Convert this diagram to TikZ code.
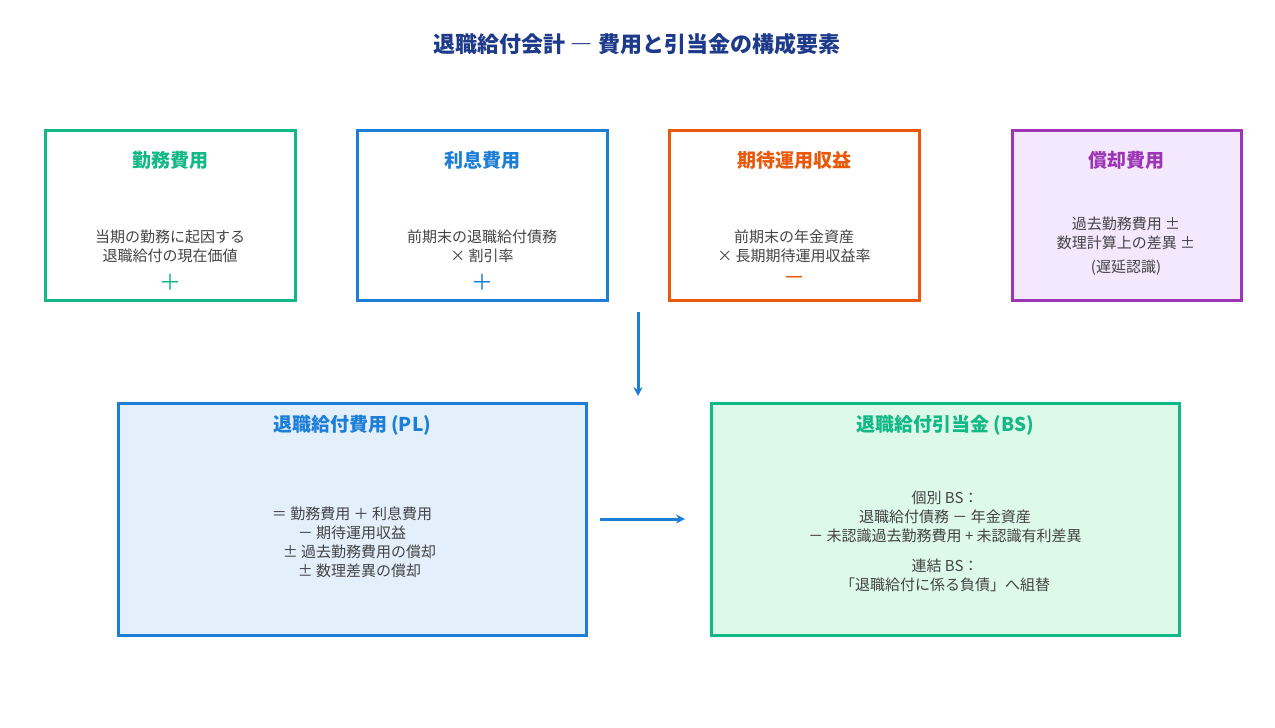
\documentclass[tikz,border=0pt]{standalone}
\usepackage{fontspec}
\setmainfont{Noto Sans CJK JP}
\usetikzlibrary{arrows.meta}
\definecolor{cGreen}{HTML}{12B886}
\definecolor{cBlue}{HTML}{1C7ED6}
\definecolor{cOrange}{HTML}{E8590C}
\definecolor{cPurple}{HTML}{9C36B5}
\definecolor{cNavy}{HTML}{1E3A8A}
\definecolor{cText}{HTML}{444444}
\definecolor{fPurple}{HTML}{F3E8FD}
\definecolor{fBlue}{HTML}{E3F0FC}
\definecolor{fGreen}{HTML}{DDF9EA}
\tikzset{
  box/.style={line width=3pt},
  head/.style={font=\fontsize{19}{22}\selectfont\bfseries},
  body/.style={font=\fontsize{15}{19}\selectfont, text=cText, align=center},
  sign/.style={font=\fontsize{22}{22}\selectfont},
  flow/.style={line width=3pt, cBlue, -{Stealth[length=9pt,width=9pt]}}
}
\begin{document}
\begin{tikzpicture}[x=1pt,y=-1pt]
  \useasboundingbox (0,0) rectangle (1275,728);
  \node[font=\fontsize{22}{26}\selectfont\bfseries, text=cNavy] (title) at (637,44) {退職給付会計 ― 費用と引当金の構成要素};

  % upper boxes
  \draw[box, cGreen] (45,130) rectangle (295,300);
  \node[head, text=cGreen] (kinmu) at (170,160) {勤務費用};
  \node[body] (kinmuT) at (170,246) {当期の勤務に起因する\\退職給付の現在価値};
  \node[sign, text=cGreen] (kinmuS) at (170,282) {＋};

  \draw[box, cBlue] (357,130) rectangle (607,300);
  \node[head, text=cBlue] (risoku) at (482,160) {利息費用};
  \node[body] (risokuT) at (482,246) {前期末の退職給付債務\\× 割引率};
  \node[sign, text=cBlue] (risokuS) at (482,282) {＋};

  \draw[box, cOrange] (669,130) rectangle (919,300);
  \node[head, text=cOrange] (kitai) at (794,160) {期待運用収益};
  \node[body] (kitaiT) at (794,246) {前期末の年金資産\\× 長期期待運用収益率};
  \node[sign, text=cOrange] (kitaiS) at (794,281) {－};

  \draw[box, cPurple, fill=fPurple] (1012,130) rectangle (1241,300);
  \node[head, text=cPurple] (shokyaku) at (1126,160) {償却費用};
  \node[body] (shokyakuT) at (1126,246) {過去勤務費用 ±\\数理計算上の差異 ±\\[5pt](遅延認識)};

  % lower boxes
  \draw[box, cBlue, fill=fBlue] (118,403) rectangle (586,635);
  \node[head, text=cBlue] (pl) at (352,425) {退職給付費用 (PL)};
  \node[body] (plT) at (352,542) {＝ 勤務費用 ＋ 利息費用\\－ 期待運用収益\\　± 過去勤務費用の償却\\　± 数理差異の償却};

  \draw[box, cGreen, fill=fGreen] (711,403) rectangle (1179,635);
  \node[head, text=cGreen] (bs) at (945,425) {退職給付引当金 (BS)};
  \node[body] (bsT) at (945,541) {個別 BS：\\退職給付債務 － 年金資産\\－ 未認識過去勤務費用 + 未認識有利差異\\[11pt]連結 BS：\\「退職給付に係る負債」へ組替};

  \coordinate (vTop) at (638,312);
  \coordinate (vBot) at (638,396);
  \coordinate (hL) at (600,519);
  \coordinate (hR) at (685,519);
  \draw[flow] (vTop) -- (vBot);
  \draw[flow] (hL) -- (hR);
\end{tikzpicture}
\end{document}
